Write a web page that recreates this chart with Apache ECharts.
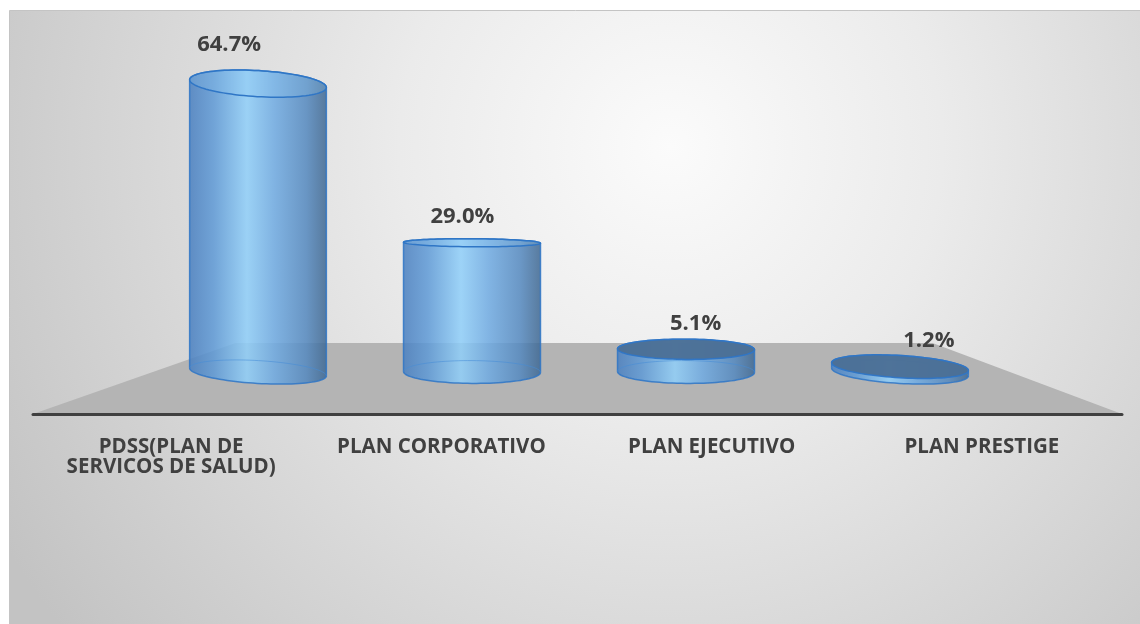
<!DOCTYPE html>
<html><head><meta charset="utf-8">
<script src="https://cdn.jsdelivr.net/npm/echarts@6/dist/echarts.min.js"></script>
<style>html,body{margin:0;padding:0;background:#fff;}#c{width:1140px;height:624px;}</style>
</head><body><div id="c"></div>
<script>
// ---- data ----
const categories = ['PDSS(PLAN DE\nSERVICOS DE SALUD)', 'PLAN CORPORATIVO', 'PLAN EJECUTIVO', 'PLAN PRESTIGE'];
const values = [64.7, 29.0, 5.1, 1.2];
const valueLabels = ['64.7%', '29.0%', '5.1%', '1.2%'];

// ---- styling helpers ----
const FONT = '"Open Sans", "Liberation Sans", sans-serif';
const HORIZON = 242;
const chart = echarts.init(document.getElementById('c'), null, {renderer: 'canvas'});

function ellipsePts(cx, cy, rx, ry, rot, t0, t1, n) {
  const pts = [];
  const c = Math.cos(rot), s = Math.sin(rot);
  for (let i = 0; i <= n; i++) {
    const t = t0 + (t1 - t0) * i / n;
    const x = rx * Math.cos(t), y = ry * Math.sin(t);
    pts.push([cx + x * c - y * s, cy + x * s + y * c]);
  }
  return pts;
}
function eRy(y) { return 4 + 0.057 * Math.abs(y - HORIZON); }

const bodyGrad = {
  type: 'linear', x: 0, y: 0, x2: 1, y2: 0,
  colorStops: [
    {offset: 0, color: '#4a7fbf'},
    {offset: 0.18, color: '#5f9ad6'},
    {offset: 0.42, color: '#90cff9'},
    {offset: 0.62, color: '#70abe2'},
    {offset: 0.85, color: '#5589bf'},
    {offset: 1, color: '#3f6790'}
  ]
};

function renderCylinder(params, api) {
  const v = api.value(1);
  const base = api.coord([api.value(0), 0]);
  const top = api.coord([api.value(0), v]);
  const band = api.size([1, 0])[0];
  const rx = band * 0.32;
  const cs = params.coordSys;
  const mid = cs.x + cs.width / 2;
  const rel = (base[0] - mid) / (cs.width / 2);
  const rot = (6 * rel * rel) * Math.PI / 180;
  const cx = base[0], by = base[1], ty = top[1];
  const rb = eRy(by), rt = eRy(ty);
  const back = ellipsePts(cx, ty, rx, rt, rot, 0, -Math.PI, 48);
  const front = ellipsePts(cx, by, rx, rb, rot, Math.PI, 0, 48);
  const body = back.concat(front);
  const seenFromAbove = ty > HORIZON + 20;
  const topEl = ellipsePts(cx, ty, rx, rt, rot, 0, Math.PI * 2, 96);
  const bottomBack = ellipsePts(cx, by, rx, rb, rot, 0, -Math.PI, 48);
  const labelDy = 26 + Math.max(0, HORIZON - ty) * 0.08;
  return {
    type: 'group',
    children: [
      {type: 'polygon', shape: {points: body},
        style: {fill: bodyGrad, stroke: '#2f76c6', lineWidth: 1.5, opacity: 0.86}},
      {type: 'polyline', shape: {points: bottomBack},
        style: {fill: null, stroke: 'rgba(70,140,215,0.55)', lineWidth: 1}},
      {type: 'polygon', shape: {points: topEl},
        style: seenFromAbove
          ? {fill: '#4b6f96', stroke: '#2f76c6', lineWidth: 1.5, opacity: 0.97}
          : {fill: 'rgba(140,200,245,0.25)', stroke: '#2f76c6', lineWidth: 1.5}},
      {type: 'text', x: cx + (cx - mid) * 0.09, y: ty - labelDy,
        style: {text: valueLabels[params.dataIndex], fill: '#404040',
          font: 'bold 22px ' + FONT, align: 'center', verticalAlign: 'middle'}}
    ]
  };
}

function renderFloor(params, api) {
  if (params.dataIndex !== 0) return;
  const cs = params.coordSys;
  const x0 = cs.x, x1 = cs.x + cs.width, yb = cs.y + cs.height, yt = cs.y;
  return {
    type: 'polygon',
    shape: {points: [[x0, yb], [x0 + cs.width * 0.186, yt], [x1 - cs.width * 0.174, yt], [x1, yb]]},
    style: {fill: '#b4b4b4'}
  };
}

const option = {
  backgroundColor: '#ffffff',
  animation: false,
  graphic: [{
    type: 'rect', left: 9, top: 10, z: -100,
    shape: {width: 1140, height: 620},
    style: {
      fill: {type: 'radial', x: 0.58, y: 0.22, r: 1.25,
        colorStops: [{offset: 0, color: '#fbfbfb'}, {offset: 0.35, color: '#ebebeb'}, {offset: 1, color: '#c3c3c3'}]},
      stroke: '#c4c4c4', lineWidth: 1
    }
  }],
  grid: [
    {left: 33, right: 18, top: 343, bottom: 210},   // floor + axis line
    {left: 151, right: 133, top: 60, bottom: 252},  // cylinders
    {left: 36, right: 23, top: 343, bottom: 210}    // category labels
  ],
  xAxis: [
    {gridIndex: 0, type: 'category', data: categories, z: 10,
      axisLine: {show: true, lineStyle: {color: '#404040', width: 3}},
      axisTick: {show: false}, axisLabel: {show: false}, splitLine: {show: false}},
    {gridIndex: 1, type: 'category', data: categories, show: false},
    {gridIndex: 2, type: 'category', data: categories,
      axisLine: {show: false}, axisTick: {show: false},
      axisLabel: {interval: 0, color: '#404040', fontFamily: FONT, fontWeight: 'bold',
        fontSize: 20.5, lineHeight: 20, margin: 23}}
  ],
  yAxis: [
    {gridIndex: 0, type: 'value', show: false, min: 0, max: 1},
    {gridIndex: 1, type: 'value', show: false, min: 0, max: 70},
    {gridIndex: 2, type: 'value', show: false, min: 0, max: 1}
  ],
  series: [
    {type: 'custom', xAxisIndex: 0, yAxisIndex: 0, z: 1, silent: true,
      renderItem: renderFloor, data: [[0, 0]]},
    {type: 'custom', xAxisIndex: 1, yAxisIndex: 1, z: 5,
      renderItem: renderCylinder,
      data: values.map((v, i) => [i, v])}
  ]
};
chart.setOption(option);
</script>
</body></html>
